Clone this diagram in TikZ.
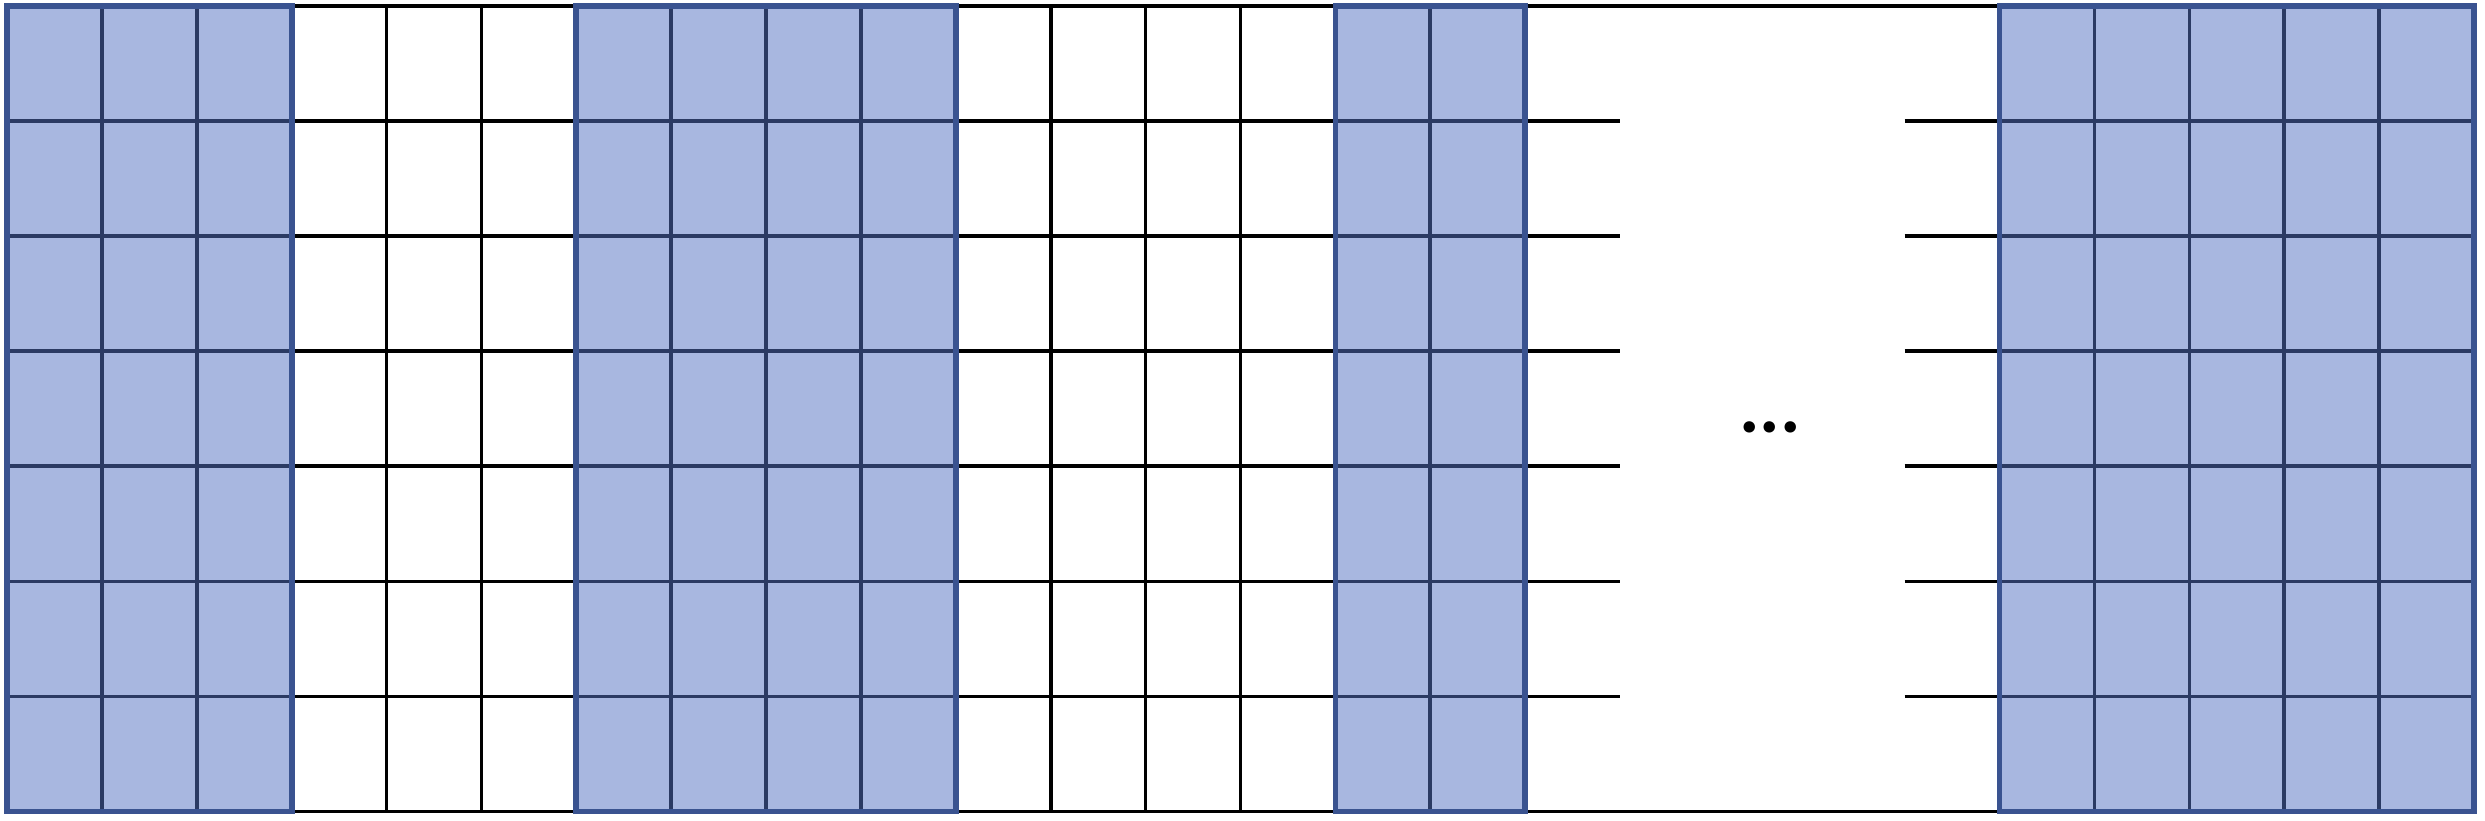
\documentclass[tikz,border=0pt]{standalone}
\usepackage{fontspec}
\setmainfont{Carlito}
\usepackage{xcolor}
\definecolor{cellblue}{HTML}{A8B7E0}
\definecolor{gridnavy}{HTML}{2B3A63}
\definecolor{edgeblue}{HTML}{3A5390}
\begin{document}
\begin{tikzpicture}[
  x=1cm, y=1.2128cm,
  whitegrid/.style={draw=black, line width=1.1pt, xstep=1cm, ystep=1.2128cm},
  bluegrid/.style={draw=gridnavy, line width=1.1pt, xstep=1cm, ystep=1.2128cm},
  blueedge/.style={draw=edgeblue, line width=1.7pt}
]
\useasboundingbox (-0.074,-0.078) rectangle (26.116,7.052);

% White blocks
\foreach \a/\b in {3/6, 10/14} {
  \draw[whitegrid] (\a,0) grid (\b,7);
}

% Gap with short row stubs
\draw[whitegrid] (16,0) -- (21,0);
\draw[whitegrid] (16,7) -- (21,7);
\foreach \r in {1,...,6} {
  \draw[whitegrid] (16,\r) -- (17,\r);
  \draw[whitegrid] (20,\r) -- (21,\r);
}

% Blue blocks
\foreach \a/\b in {0/3, 6/10, 14/16, 21/26} {
  \fill[cellblue] (\a,0) rectangle (\b,7);
  \draw[bluegrid] (\a,0) grid (\b,7);
  \draw[blueedge] (\a,0) rectangle (\b,7);
}

% Ellipsis
\node[anchor=base, inner sep=0pt, font=\fontsize{23}{23}\selectfont\bfseries] (dots) at (18.58,3.29) {...};

\end{tikzpicture}
\end{document}
